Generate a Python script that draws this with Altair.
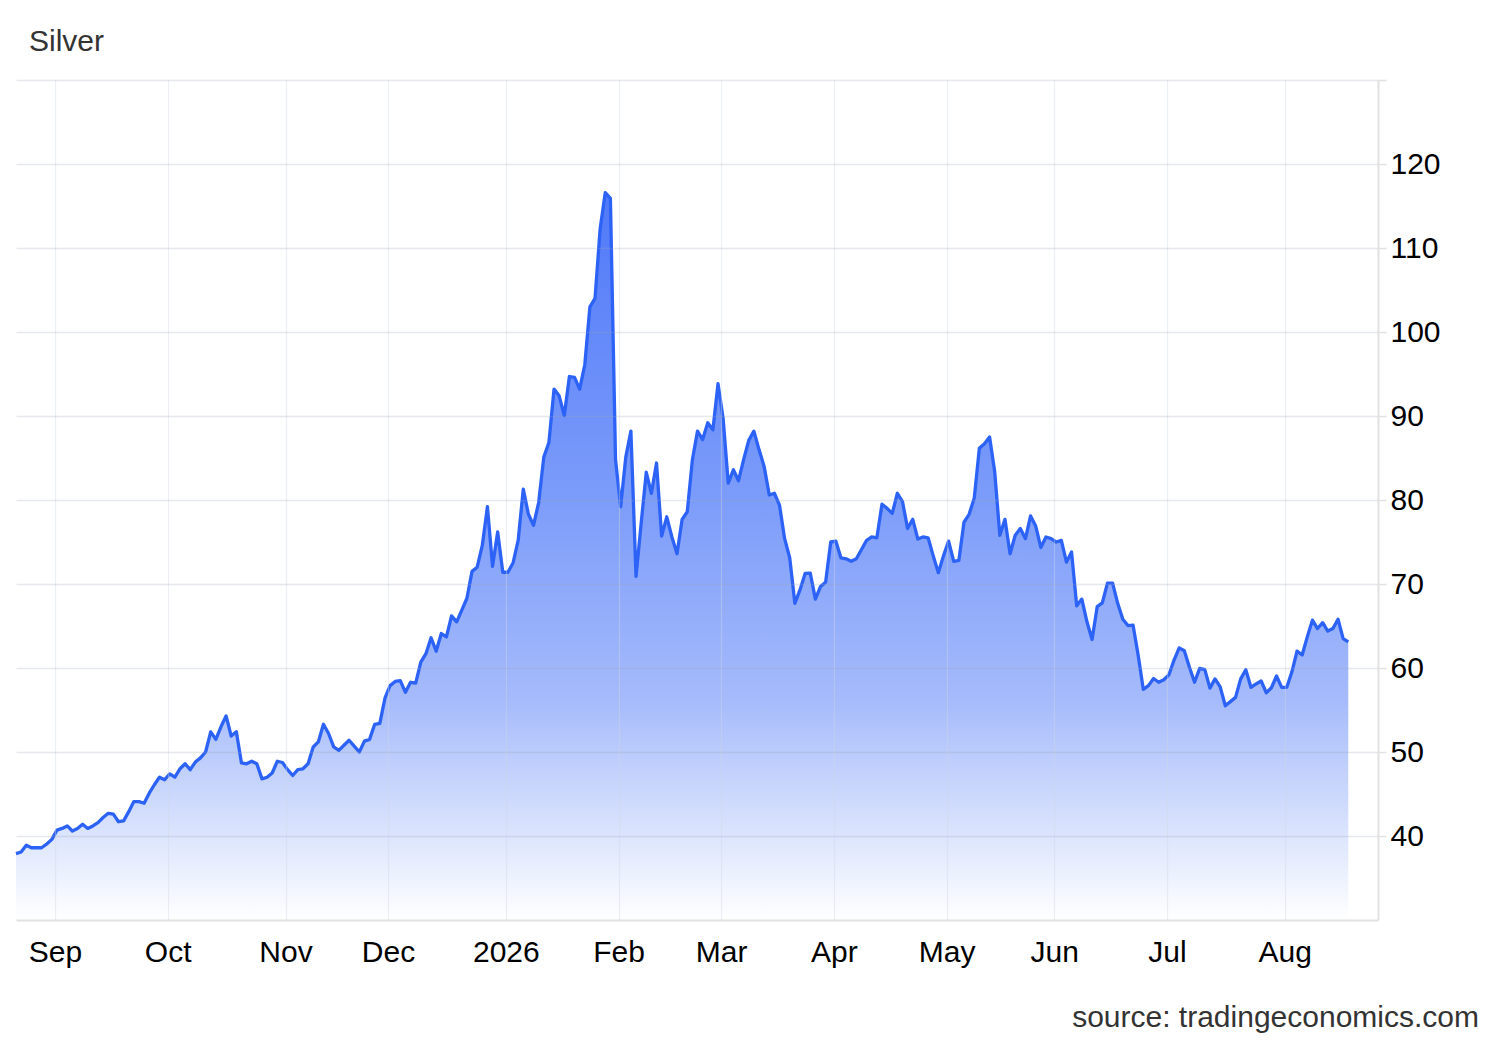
import json
import altair as alt
import pandas as pd

# Silver daily closes, one per trading day
prices = [
    37.9, 38.1, 38.9, 38.6, 38.6, 38.6, 39.05, 39.6, 40.7, 40.9,
    41.2, 40.6, 40.9, 41.4, 40.9, 41.2, 41.6, 42.2, 42.7, 42.6,
    41.7, 41.8, 42.9, 44.1, 44.1, 43.9, 45.1, 46.1, 47.0, 46.7,
    47.4, 47.0, 48.0, 48.6, 47.9, 48.8, 49.3, 50.0, 52.4, 51.5,
    53.0, 54.3, 51.9, 52.4, 48.7, 48.6, 48.9, 48.6, 46.8, 47.0,
    47.5, 48.9, 48.75, 47.9, 47.2, 47.9, 48.0, 48.6, 50.6, 51.2,
    53.3, 52.2, 50.6, 50.2, 50.8, 51.4, 50.7, 50.0, 51.3, 51.5,
    53.3, 53.4, 56.4, 57.9, 58.4, 58.5, 57.1, 58.3, 58.2, 60.7,
    61.7, 63.6, 62.0, 64.1, 63.7, 66.2, 65.5, 66.9, 68.3, 71.5,
    72.0, 74.6, 79.2, 72.1, 76.2, 71.4, 71.4, 72.5, 75.2, 81.3,
    78.3, 77.0, 79.7, 85.1, 86.85, 93.2, 92.4, 90.05, 94.7, 94.6,
    93.2, 96.1, 103.0, 104.0, 112.3, 116.6, 115.9, 84.8, 79.2, 85.1,
    88.2, 70.9, 77.2, 83.3, 80.8, 84.4, 75.7, 78.0, 75.6, 73.6,
    77.7, 78.6, 84.8, 88.2, 87.2, 89.2, 88.35, 93.85, 89.7, 82.0,
    83.6, 82.3, 84.8, 87.1, 88.2, 86.0, 84.0, 80.6, 80.8, 79.4,
    75.4, 73.1, 67.7, 69.3, 71.25, 71.3, 68.2, 69.7, 70.2, 75.0,
    75.1, 73.1, 73.0, 72.7, 73.0, 74.1, 75.2, 75.6, 75.5, 79.5,
    79.0, 78.4, 80.8, 79.8, 76.6, 77.7, 75.35, 75.6, 75.5, 73.35,
    71.35, 73.35, 75.1, 72.7, 72.8, 77.35, 78.3, 80.2, 86.15, 86.7,
    87.5, 83.35, 75.8, 77.7, 73.6, 75.8, 76.6, 75.4, 78.1, 76.9,
    74.35, 75.6, 75.4, 75.0, 75.2, 72.6, 73.8, 67.4, 68.2, 65.5,
    63.4, 67.3, 67.75, 70.1, 70.1, 67.7, 65.8, 65.05, 65.1, 61.5,
    57.45, 57.9, 58.75, 58.3, 58.6, 59.2, 60.95, 62.4, 62.05, 60.1,
    58.3, 59.95, 59.8, 57.6, 58.7, 57.75, 55.5, 56.0, 56.5, 58.7,
    59.8, 57.7, 58.1, 58.45, 57.05, 57.65, 59.05, 57.7, 57.7, 59.55,
    62.0, 61.55, 63.7, 65.7, 64.7, 65.4, 64.4, 64.7, 65.8, 63.5,
    63.1,
]
dates = pd.bdate_range("2025-08-21", "2026-08-20")
assert len(dates) == len(prices), (len(dates), len(prices))

y_ticks = [40, 50, 60, 70, 80, 90, 100, 110, 120, 130]
title_text = "Silver"
source_text = "source: tradingeconomics.com"

df = pd.DataFrame({
    "idx": list(range(len(prices))),
    "date": dates.strftime("%Y-%m-%d"),
    "price": prices,
})

# month ticks at the first trading day of each month
tick_idx, tick_lab = [], []
for i in range(1, len(dates)):
    if dates[i].month != dates[i - 1].month:
        tick_idx.append(i)
        tick_lab.append(str(dates[i].year) if dates[i].month == 1 else dates[i].strftime("%b"))
tick_vals = [i + 0.6 for i in tick_idx]
label_expr = f"{json.dumps(tick_lab)}[indexof({json.dumps(tick_idx)}, floor(datum.value))]"

FONT = "Liberation Sans"
W, H = 1362, 840

x_enc = alt.X(
    "idx:Q",
    scale=alt.Scale(domain=[0, len(prices) - 1 + 5.8], nice=False, zero=False),
    axis=alt.Axis(
        values=tick_vals, labelExpr=label_expr, title=None, grid=True,
        gridColor="#d0d6e0", gridOpacity=0.4, gridWidth=1.2,
        ticks=False, domainColor="#e2e2e2", domainWidth=2,
        labelFont=FONT, labelFontSize=30, labelColor="#000000",
        labelBaseline="alphabetic", labelPadding=41, labelFlush=False,
        labelOverlap=False, zindex=1,
    ),
)
y_enc = alt.Y(
    "price:Q",
    scale=alt.Scale(domain=[30, 130], nice=False, zero=False),
    axis=alt.Axis(
        orient="right", values=y_ticks,
        labelExpr="datum.value >= 130 ? '' : datum.label",
        title=None, grid=True, gridColor="#9aa3b5", gridOpacity=0.25, gridWidth=1.5,
        tickColor="#e2e2e2", tickSize=8, tickWidth=1.5,
        domainColor="#e2e2e2", domainWidth=2,
        labelFont=FONT, labelFontSize=30, labelColor="#000000",
        labelBaseline="middle", labelPadding=4, labelFlush=False, zindex=1,
    ),
)

gradient = alt.Gradient(
    gradient="linear",
    stops=[
        alt.GradientStop(color="#5079f8", offset=0),
        alt.GradientStop(color="#7c9cfa", offset=0.42),
        alt.GradientStop(color="#a6bbfb", offset=0.7),
        alt.GradientStop(color="#dce5fd", offset=0.885),
        alt.GradientStop(color="#ffffff", offset=1),
    ],
    x1=1, x2=1, y1=0, y2=1,
)

base = alt.Chart(df)
area = base.mark_area(color=gradient).encode(x=x_enc, y=y_enc, y2=alt.datum(30))
line = base.mark_line(color="#2c62f6", strokeWidth=3.3, strokeJoin="round").encode(x=x_enc, y=y_enc)

title = alt.Chart(pd.DataFrame({"t": [title_text]})).mark_text(
    align="left", baseline="alphabetic", font=FONT, fontSize=30, color="#333333"
).encode(x=alt.value(13), y=alt.value(-29), text="t:N")

source = alt.Chart(pd.DataFrame({"t": [source_text]})).mark_text(
    align="right", baseline="alphabetic", font=FONT, fontSize=30, color="#333333"
).encode(x=alt.value(1463), y=alt.value(947), text="t:N")

chart = alt.layer(area, line, title, source).properties(
    width=W, height=H,
    autosize=alt.AutoSizeParams(type="none"),
    padding={"left": 8, "top": 72, "right": 114, "bottom": 120},
    background="#ffffff",
).configure_view(stroke=None)

chart.save("out.html", embed_options={"renderer": "svg", "actions": False})
